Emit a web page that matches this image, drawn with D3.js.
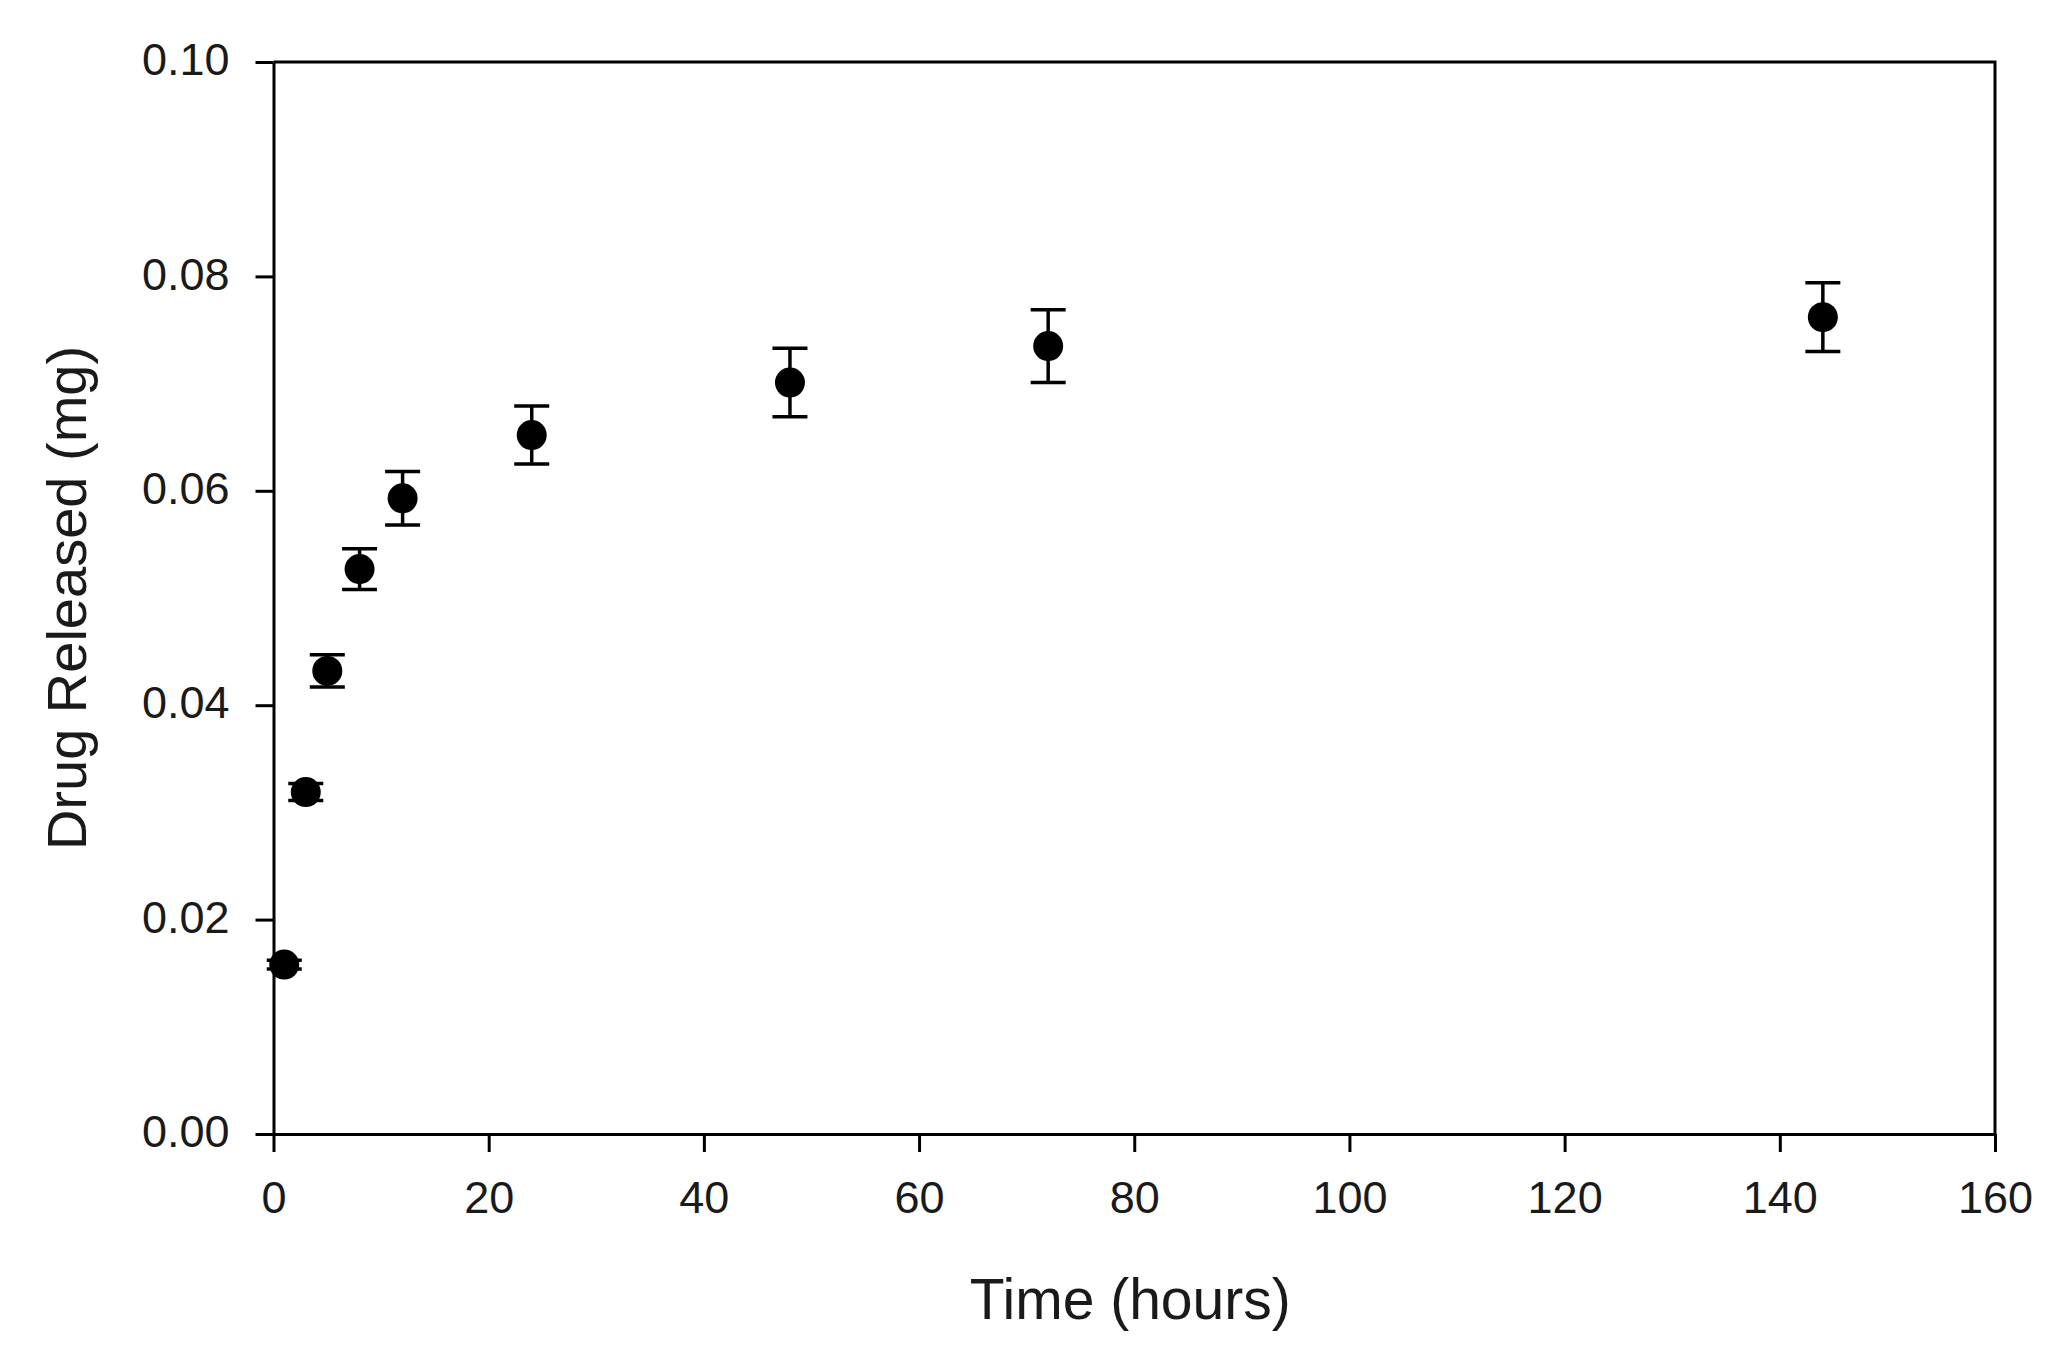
<!DOCTYPE html>
<html>
<head>
  <meta charset="utf-8">
  <script src="https://d3js.org/d3.v7.min.js"></script>
  <style>
    body { margin: 0; background: #fff; }
    text { font-family: "Liberation Sans", Arial, sans-serif; fill: #1a1a1a; }
  </style>
</head>
<body>
  <script type="text/javascript">
    "use strict";

    // Time points (hours)
    var times = [1, 3, 5, 8, 12, 24, 48, 72, 144];
    // Mean drug released (mg)
    var released = [0.0158, 0.0319, 0.0432, 0.0527, 0.0593, 0.0652, 0.0701, 0.0735, 0.0762];
    // Error bar half-width (mg)
    var errors = [0.0004, 0.0008, 0.0015, 0.0019, 0.0025, 0.0027, 0.0032, 0.0034, 0.0032];

    var xTicks = [0, 20, 40, 60, 80, 100, 120, 140, 160];
    var yTicks = [0.00, 0.02, 0.04, 0.06, 0.08, 0.10];

    var data = times.map(function (t, i) {
      return { t: t, v: released[i], e: errors[i] };
    });

    var W = 2062, H = 1359;
    var plotL = 273.5, plotT = 62, plotR = 1995, plotB = 1134;

    var svg = d3.select("body")
      .append("svg")
        .attr("width", W)
        .attr("height", H);

    var x = d3.scaleLinear().domain([0, 160]).range([plotL, plotR]);
    var y = d3.scaleLinear().domain([0, 0.10]).range([plotB, plotT]);

    /*
      Axes
    */
    var xAxis = svg.append("g")
        .attr("transform", "translate(0," + plotB + ")")
        .call(d3.axisBottom(x).tickValues(xTicks).tickSize(18).tickPadding(29).tickSizeOuter(0));

    var yAxis = svg.append("g")
        .attr("transform", "translate(" + plotL + ",0)")
        .call(d3.axisLeft(y).tickValues(yTicks).tickFormat(d3.format(".2f"))
          .tickSize(18).tickPadding(26).tickSizeOuter(0));

    [xAxis, yAxis].forEach(function (g) {
      g.selectAll("path, line").attr("stroke", "#000").attr("stroke-width", 3);
      g.selectAll("text")
        .attr("fill", "#1a1a1a")
        .style("font-family", "'Liberation Sans', Arial, sans-serif")
        .style("font-size", "45px");
    });
    yAxis.selectAll("text").attr("dy", "0.28em");

    // top and right frame
    svg.append("path")
      .attr("d", "M" + plotL + "," + plotT + "H" + plotR + "V" + plotB)
      .attr("fill", "none")
      .attr("stroke", "#000")
      .attr("stroke-width", 3);

    /*
      Error bars and markers
    */
    var cap = 17.5;
    var pts = svg.append("g");

    pts.selectAll("line.stem")
      .data(data)
      .enter()
      .append("line")
        .attr("class", "stem")
        .attr("x1", function (d) { return x(d.t); })
        .attr("x2", function (d) { return x(d.t); })
        .attr("y1", function (d) { return y(d.v - d.e); })
        .attr("y2", function (d) { return y(d.v + d.e); })
        .attr("stroke", "#000")
        .attr("stroke-width", 3.5);

    ["hi", "lo"].forEach(function (k) {
      pts.selectAll("line.cap-" + k)
        .data(data)
        .enter()
        .append("line")
          .attr("class", "cap-" + k)
          .attr("x1", function (d) { return x(d.t) - cap; })
          .attr("x2", function (d) { return x(d.t) + cap; })
          .attr("y1", function (d) { return y(k === "hi" ? d.v + d.e : d.v - d.e); })
          .attr("y2", function (d) { return y(k === "hi" ? d.v + d.e : d.v - d.e); })
          .attr("stroke", "#000")
          .attr("stroke-width", 3.5);
    });

    pts.selectAll("circle")
      .data(data)
      .enter()
      .append("circle")
        .attr("cx", function (d) { return x(d.t); })
        .attr("cy", function (d) { return y(d.v); })
        .attr("r", 15)
        .attr("fill", "#000");

    /*
      Axis titles
    */
    svg.append("text")
      .attr("x", (plotL + plotR) / 2 - 4)
      .attr("y", 1319)
      .attr("text-anchor", "middle")
      .style("font-size", "57px")
      .text("Time (hours)");

    svg.append("text")
      .attr("transform", "translate(86," + ((plotT + plotB) / 2) + ") rotate(-90)")
      .attr("text-anchor", "middle")
      .style("font-size", "56px")
      .text("Drug Released (mg)");
  </script>
</body>
</html>
